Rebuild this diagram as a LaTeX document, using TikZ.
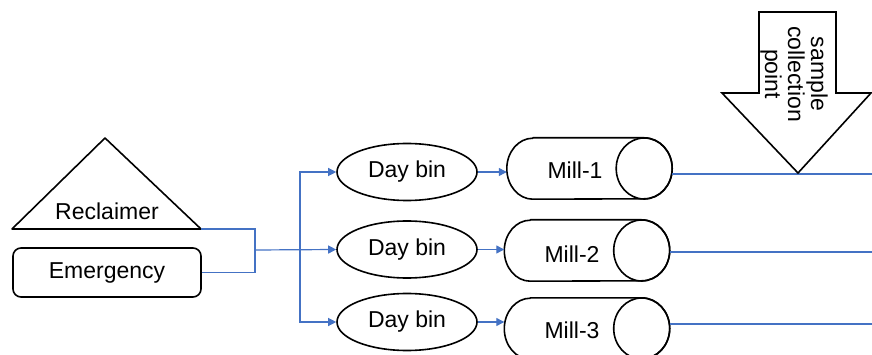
\documentclass[tikz,border=0pt]{standalone}
\usepackage{fontspec}
\setmainfont{Liberation Sans}
\usetikzlibrary{shapes.geometric,arrows.meta,calc}
\definecolor{flowblue}{HTML}{4472C4}
\tikzset{
  outline/.style={draw=black, line width=1.6pt, line join=round},
  flow/.style={draw=flowblue, line width=1.2pt},
  flowarr/.style={flow, -{Triangle[length=8pt,width=8pt]}},
  txt/.style={font=\fontsize{23}{23}\selectfont, inner sep=0pt},
  binbox/.style={outline, ellipse, minimum width=140pt, minimum height=57pt, inner sep=0pt,
                 font=\fontsize{23}{23}\selectfont},
  millbody/.style={minimum width=165pt, minimum height=61pt, inner sep=0pt},
}
\newcommand{\millcyl}[1]{%
  \draw[outline] ($(#1.north west)+(26,0)$) -- ($(#1.north east)+(-28,0)$)
    arc[start angle=90, end angle=-90, x radius=28pt, y radius=30.5pt]
    -- ($(#1.south west)+(26,0)$)
    arc[start angle=270, end angle=90, x radius=26pt, y radius=30.5pt] -- cycle;
  \draw[outline] ($(#1.east)+(-28,0)$) ellipse[x radius=28pt, y radius=30.5pt];
}
\begin{document}
\begin{tikzpicture}[x=1pt, y=-1pt]
\useasboundingbox (0,0) rectangle (872,355);

% sources
\draw[outline] (12,229) coordinate (recL) -- (105,138) -- (201,229) coordinate (recR) -- cycle;
\node[txt] (rec) at (107,211) {Reclaimer};
\node[outline, rounded corners=8pt, minimum width=188pt, minimum height=49pt, inner sep=0pt,
      font=\fontsize{23}{23}\selectfont] (em) at (107,272.5) {Emergency};

% junction and distribution trunk
\coordinate (j) at (255,250);
\coordinate (t) at (300,250);
\draw[flow] (recR) -| (j);
\draw[flow] (em.east) -| (j);

% day bins
\node[binbox] (b1) at (407,172) {Day bin};
\node[binbox] (b2) at (407,249.5) {Day bin};
\node[binbox] (b3) at (407,322) {Day bin};

\draw[flowarr] (j) -- (b2.west);
\draw[flowarr] (t) |- (b1.west);
\draw[flowarr] (t) |- (b3.west);

% mills
\node[millbody] (m1) at (589.5,168.5) {};
\node[millbody] (m2) at (587,250.5) {};
\node[millbody] (m3) at (587,328.5) {};
\millcyl{m1}
\millcyl{m2}
\millcyl{m3}
\node[txt] (m1t) at (575,170) {Mill-1};
\node[txt] (m2t) at (572,254) {Mill-2};
\node[txt] (m3t) at (572,330) {Mill-3};

\draw[flowarr] (b1.east) -- (m1.west |- b1.east);
\draw[flowarr] (b2.east) -- (m2.west |- b2.east);
\draw[flowarr] (b3.east) -- (m3.west |- b3.east);

% outgoing product lines
\coordinate (o1) at (872,174);
\coordinate (o2) at (872,252);
\coordinate (o3) at (872,324);
\draw[flow] ($(m1.east)+(0,5.5)$) -- (o1);
\draw[flow] ($(m2.east)+(0,1.5)$) -- (o2);
\draw[flow] ($(m3.east)+(0,-4.5)$) -- (o3);

% sample collection arrow
\draw[outline, line join=miter] (759,12) -- (836,12) -- (836,93) -- (871,93)
  -- (798,173) coordinate (tip) -- (722,93) -- (759,93) -- cycle;
\node[txt, rotate=-90, align=center] (scp) at (794,74) {sample\\collection\\point};
\end{tikzpicture}
\end{document}
